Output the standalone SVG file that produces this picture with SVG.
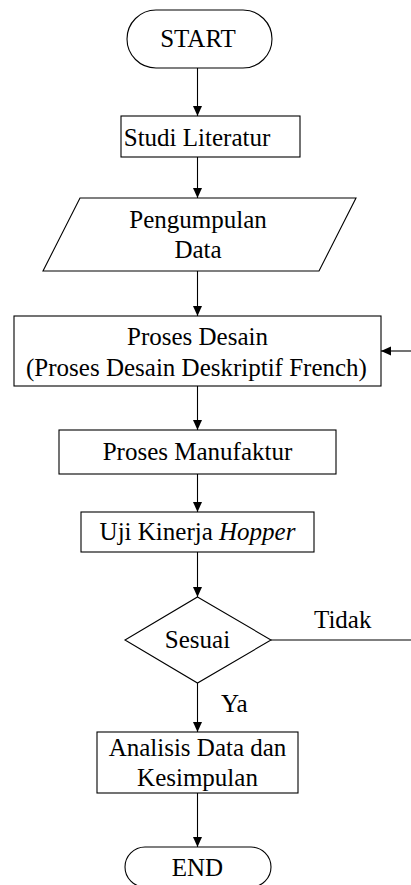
<svg xmlns="http://www.w3.org/2000/svg" width="411" height="885" viewBox="0 0 411 885">
  <style>
    .shape { fill: #ffffff; stroke: #000000; stroke-width: 1.1; }
    .line { fill: none; stroke: #000000; stroke-width: 1.1; }
    text { font-family: 'Liberation Serif', 'DejaVu Serif', serif; font-size: 25px; fill: #000000; text-anchor: middle; }
    .lbl { text-anchor: start; }
  </style>
  <defs>
    <marker id="arrow" viewBox="0 0 10 10" refX="10" refY="5" markerWidth="10" markerHeight="10" markerUnits="userSpaceOnUse" orient="auto">
      <path d="M0,0.5 L10,5 L0,9.5 Z" fill="#000000"/>
    </marker>
  </defs>
  <rect width="411" height="885" fill="#ffffff"/>

  <g id="connectors">
    <line class="line" x1="197.5" y1="68" x2="197.5" y2="116" marker-end="url(#arrow)"/>
    <line class="line" x1="197.5" y1="157" x2="197.5" y2="198" marker-end="url(#arrow)"/>
    <line class="line" x1="197.5" y1="271" x2="197.5" y2="316" marker-end="url(#arrow)"/>
    <line class="line" x1="197.5" y1="386" x2="197.5" y2="430" marker-end="url(#arrow)"/>
    <line class="line" x1="197.5" y1="474" x2="197.5" y2="512" marker-end="url(#arrow)"/>
    <line class="line" x1="197.5" y1="552" x2="197.5" y2="597" marker-end="url(#arrow)"/>
    <line class="line" x1="197.5" y1="683" x2="197.5" y2="732" marker-end="url(#arrow)"/>
    <line class="line" x1="197.5" y1="793" x2="197.5" y2="847" marker-end="url(#arrow)"/>
    <line class="line" x1="271" y1="640" x2="411" y2="640"/>
    <line class="line" x1="411" y1="351" x2="381" y2="351" marker-end="url(#arrow)"/>
    <text class="lbl" x="314" y="628">Tidak</text>
    <text class="lbl" x="221" y="712">Ya</text>
  </g>

  <g id="start">
    <rect class="shape" x="127" y="10" width="145" height="58" rx="29" ry="29"/>
    <text x="198" y="47">START</text>
  </g>

  <g id="studi-literatur">
    <rect class="shape" x="121" y="116" width="179" height="41"/>
    <text x="197" y="146">Studi Literatur</text>
  </g>

  <g id="pengumpulan-data">
    <polygon class="shape" points="80,198 356,198 319,271 43,271"/>
    <text x="198" y="228">Pengumpulan</text>
    <text x="198" y="258">Data</text>
  </g>

  <g id="proses-desain">
    <rect class="shape" x="14" y="316" width="367" height="70"/>
    <text x="197.5" y="345">Proses Desain</text>
    <text x="196.5" y="376">(Proses Desain Deskriptif French)</text>
  </g>

  <g id="proses-manufaktur">
    <rect class="shape" x="59" y="430" width="277" height="44"/>
    <text x="197.5" y="460">Proses Manufaktur</text>
  </g>

  <g id="uji-kinerja">
    <rect class="shape" x="81" y="512" width="233" height="40"/>
    <text x="197.5" y="540">Uji Kinerja <tspan font-style="italic">Hopper</tspan></text>
  </g>

  <g id="sesuai">
    <polygon class="shape" points="197.5,597 271,640 197.5,683 125,640"/>
    <text x="197.5" y="648">Sesuai</text>
  </g>

  <g id="analisis">
    <rect class="shape" x="97" y="732" width="201" height="61"/>
    <text x="197.5" y="756">Analisis Data dan</text>
    <text x="197.5" y="786">Kesimpulan</text>
  </g>

  <g id="end">
    <rect class="shape" x="125" y="847" width="146" height="40" rx="20" ry="20"/>
    <text x="197.5" y="876" font-size="28">END</text>
  </g>
</svg>
